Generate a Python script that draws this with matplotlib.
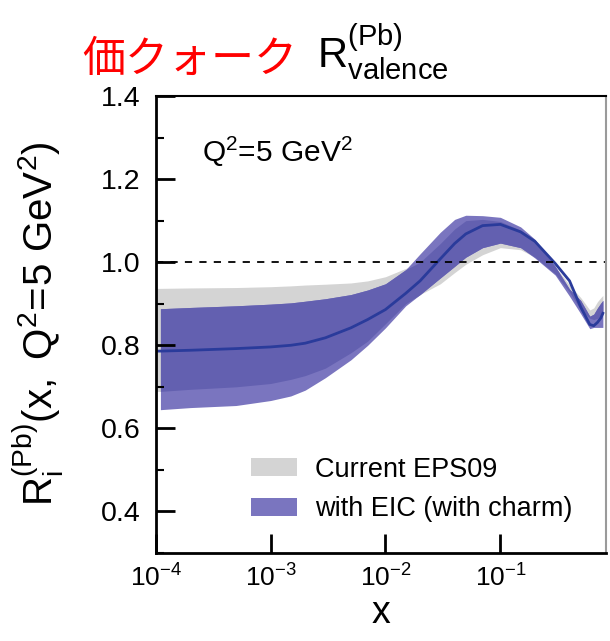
import matplotlib
matplotlib.use('Agg')
import matplotlib.pyplot as plt
import numpy as np
from matplotlib.ticker import MultipleLocator, NullLocator

# x grid (EPS09 band starts at the axis edge, the EIC band a bit later)
x_eps09 = [1.0e-4, 1.1e-4, 2e-4, 5e-4, 1e-3, 1.5e-3, 2e-3, 3e-3, 5e-3, 7e-3, 1e-2, 1.5e-2, 2e-2,
           3e-2, 4e-2, 5e-2, 7e-2, 0.1, 0.15, 0.2, 0.3, 0.4, 0.5, 0.6, 0.65, 0.7, 0.75, 0.78]
x_eic = x_eps09[1:]

# Current EPS09 band
eps_hi = [0.937, 0.937, 0.938, 0.939, 0.941, 0.943, 0.945, 0.947, 0.950, 0.955, 0.965, 0.985, 1.000,
          1.045, 1.080, 1.100, 1.103, 1.098, 1.077, 1.050, 0.990, 0.945, 0.915, 0.885, 0.890, 0.905,
          0.915, 0.920]
eps_lo = [0.689, 0.689, 0.694, 0.700, 0.708, 0.718, 0.727, 0.745, 0.782, 0.810, 0.852, 0.900, 0.922,
          0.948, 0.975, 0.995, 1.018, 1.035, 1.030, 1.012, 0.972, 0.928, 0.885, 0.865, 0.862, 0.865,
          0.870, 0.875]

# with EIC (with charm) band
eic_hi = [0.888, 0.891, 0.895, 0.899, 0.902, 0.906, 0.912, 0.922, 0.933, 0.948, 0.982, 1.020,
          1.072, 1.103, 1.113, 1.112, 1.108, 1.085, 1.055, 0.990, 0.935, 0.908, 0.870, 0.875,
          0.890, 0.902, 0.908]
eic_lo = [0.645, 0.650, 0.655, 0.667, 0.678, 0.692, 0.722, 0.765, 0.800, 0.842, 0.895, 0.922,
          0.962, 0.990, 1.012, 1.035, 1.046, 1.035, 1.010, 0.969, 0.918, 0.876, 0.840, 0.843,
          0.843, 0.843, 0.843]

# central value
central = [0.786, 0.786, 0.788, 0.792, 0.796, 0.800, 0.805, 0.818, 0.842, 0.862, 0.886, 0.925, 0.955,
           1.008, 1.045, 1.068, 1.088, 1.091, 1.073, 1.050, 0.997, 0.955, 0.892, 0.850, 0.847, 0.855,
           0.866, 0.877]

ytick_vals = [0.4, 0.6, 0.8, 1.0, 1.2, 1.4]
xtick_vals = [1e-4, 1e-3, 1e-2, 1e-1]
xtick_labels = [r'$\mathregular{10^{-4}}$', r'$\mathregular{10^{-3}}$',
                r'$\mathregular{10^{-2}}$', r'$\mathregular{10^{-1}}$']

plt.rcParams['font.family'] = ['Liberation Sans', 'DejaVu Sans']
plt.rcParams['mathtext.fontset'] = 'custom'
plt.rcParams['mathtext.rm'] = 'Liberation Sans'
plt.rcParams['mathtext.it'] = 'Liberation Sans:italic'

fig = plt.figure(figsize=(6.1, 6.41), dpi=100)
ax = fig.add_axes([0.2552, 0.1373, 0.7382, 0.7129])

gray = '#d4d4d4'
purple = '#7a75bf'
purple_dark = '#6360b0'

ax.fill_between(x_eps09, eps_lo, eps_hi, color=gray, lw=0, label='Current EPS09')
ax.fill_between(x_eic, eic_lo, eic_hi, color=purple, lw=0, label='with EIC (with charm)')
# where the EIC band lies on top of the EPS09 band
lo = np.maximum(np.array(eps_lo[1:]), np.array(eic_lo))
hi = np.minimum(np.array(eps_hi[1:]), np.array(eic_hi))
ax.fill_between(x_eic, lo, hi, where=hi > lo, interpolate=True, color=purple_dark, lw=0)

ax.plot(x_eps09, central, color='#2a3b9b', lw=2)
ax.axhline(1.0, color='k', lw=1.3, ls=(0, (4, 4)))

ax.set_xscale('log')
ax.set_xlim(1e-4, 0.83)
ax.set_ylim(0.3, 1.4)
ax.set_xticks(xtick_vals)
ax.set_xticklabels(xtick_labels)
ax.xaxis.set_minor_locator(NullLocator())
ax.set_yticks(ytick_vals)
ax.set_yticklabels(['%.1f' % v for v in ytick_vals])
ax.yaxis.set_minor_locator(MultipleLocator(0.1))

ax.tick_params(which='major', direction='in', length=14, width=2,
               top=False, right=False, pad=8)
ax.tick_params(which='minor', direction='in', length=6, width=1.5, top=False, right=False)
ax.tick_params(axis='x', labelsize=19)
ax.tick_params(axis='y', labelsize=20.5, pad=11)

for s in ['left', 'bottom']:
    ax.spines[s].set_linewidth(2)
ax.spines['top'].set_linewidth(1.5)
ax.spines['right'].set_linewidth(1.5)
ax.spines['right'].set_color('#9a9a9a')

ax.set_xlabel('x', fontsize=27, labelpad=3)
fig.text(38 / 610, 1 - 324 / 641, r'$\mathregular{R_i^{(Pb)}(x,\ Q^2\!=\!5\ GeV^2)}$',
         rotation=90, ha='center', va='center', fontsize=29)

fig.text(202 / 610, 1 - 162 / 641, r'Q$^2$=5 GeV$^2$', fontsize=21.5, va='baseline')

ax.legend(loc='upper left', bbox_to_anchor=(0.2116, 0.211), frameon=False, fontsize=19.5,
          handlelength=1.7, handleheight=0.63, handletextpad=0.66, labelspacing=0.51,
          borderpad=0, borderaxespad=0)

fig.text(82 / 610, 1 - 72 / 641, '価クォーク', color='red', fontsize=31,
         family=['Noto Sans CJK JP', 'DejaVu Sans'], va='baseline')
fig.text(317 / 610, 1 - 68 / 641, r'$\mathregular{R^{(Pb)}_{valence}}$', fontsize=30,
         va='baseline')

fig.savefig('out.png', dpi=100)
